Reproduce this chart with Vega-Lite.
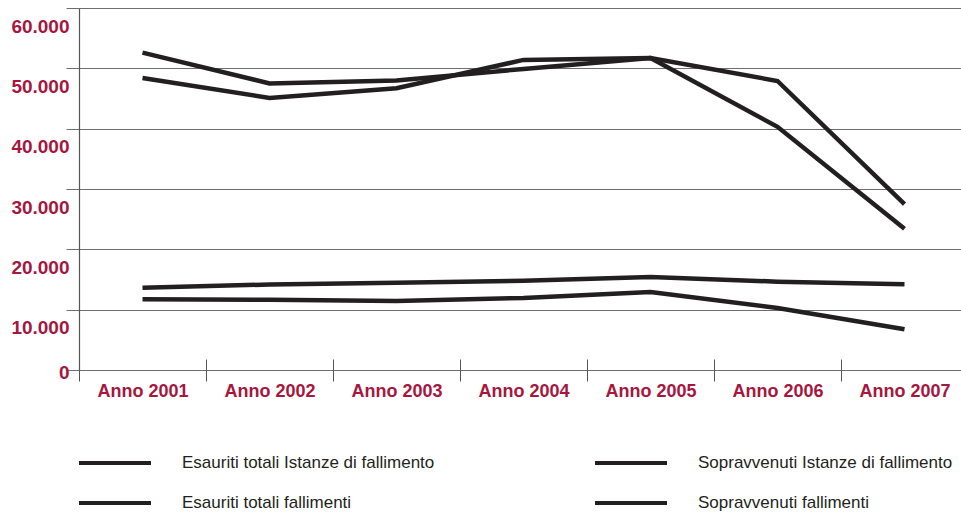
{
  "$schema": "https://vega.github.io/schema/vega-lite/v6.json",
  "autosize": {"type": "none"},
  "padding": {"left": 79, "top": 8, "right": 0, "bottom": 142},
  "width": 889,
  "height": 362,
  "background": "white",
  "config": {
    "view": {"stroke": null},
    "font": "Liberation Sans"
  },
  "data": {
    "values": [
      {"anno": "Anno 2001", "serie": "Esauriti totali Istanze di fallimento", "valore": 52600},
      {"anno": "Anno 2002", "serie": "Esauriti totali Istanze di fallimento", "valore": 47500},
      {"anno": "Anno 2003", "serie": "Esauriti totali Istanze di fallimento", "valore": 48000},
      {"anno": "Anno 2004", "serie": "Esauriti totali Istanze di fallimento", "valore": 49900},
      {"anno": "Anno 2005", "serie": "Esauriti totali Istanze di fallimento", "valore": 51700},
      {"anno": "Anno 2006", "serie": "Esauriti totali Istanze di fallimento", "valore": 47900},
      {"anno": "Anno 2007", "serie": "Esauriti totali Istanze di fallimento", "valore": 27500},
      {"anno": "Anno 2001", "serie": "Sopravvenuti Istanze di fallimento", "valore": 48400},
      {"anno": "Anno 2002", "serie": "Sopravvenuti Istanze di fallimento", "valore": 45100},
      {"anno": "Anno 2003", "serie": "Sopravvenuti Istanze di fallimento", "valore": 46700},
      {"anno": "Anno 2004", "serie": "Sopravvenuti Istanze di fallimento", "valore": 51400},
      {"anno": "Anno 2005", "serie": "Sopravvenuti Istanze di fallimento", "valore": 51700},
      {"anno": "Anno 2006", "serie": "Sopravvenuti Istanze di fallimento", "valore": 40300},
      {"anno": "Anno 2007", "serie": "Sopravvenuti Istanze di fallimento", "valore": 23400},
      {"anno": "Anno 2001", "serie": "Esauriti totali fallimenti", "valore": 13640},
      {"anno": "Anno 2002", "serie": "Esauriti totali fallimenti", "valore": 14170},
      {"anno": "Anno 2003", "serie": "Esauriti totali fallimenti", "valore": 14470},
      {"anno": "Anno 2004", "serie": "Esauriti totali fallimenti", "valore": 14800},
      {"anno": "Anno 2005", "serie": "Esauriti totali fallimenti", "valore": 15400},
      {"anno": "Anno 2006", "serie": "Esauriti totali fallimenti", "valore": 14640},
      {"anno": "Anno 2007", "serie": "Esauriti totali fallimenti", "valore": 14200},
      {"anno": "Anno 2001", "serie": "Sopravvenuti fallimenti", "valore": 11720},
      {"anno": "Anno 2002", "serie": "Sopravvenuti fallimenti", "valore": 11650},
      {"anno": "Anno 2003", "serie": "Sopravvenuti fallimenti", "valore": 11450},
      {"anno": "Anno 2004", "serie": "Sopravvenuti fallimenti", "valore": 11950},
      {"anno": "Anno 2005", "serie": "Sopravvenuti fallimenti", "valore": 12930},
      {"anno": "Anno 2006", "serie": "Sopravvenuti fallimenti", "valore": 10280},
      {"anno": "Anno 2007", "serie": "Sopravvenuti fallimenti", "valore": 6750}
    ]
  },
  "mark": {"type": "line", "strokeWidth": 4.5, "strokeCap": "butt", "strokeJoin": "miter", "clip": false},
  "encoding": {
    "x": {
      "field": "anno",
      "type": "ordinal",
      "scale": {"type": "band", "paddingInner": 0, "paddingOuter": 0},
      "axis": {
        "title": null,
        "domain": false,
        "offset": -11,
        "tickBand": "extent",
        "tickSize": 22,
        "tickColor": "#555555",
        "tickWidth": 1,
        "labelAngle": 0,
        "labelPadding": 1,
        "labelFont": "Liberation Sans",
        "labelFontSize": 18,
        "labelFontWeight": "bold",
        "labelColor": "#A6173F"
      }
    },
    "y": {
      "field": "valore",
      "type": "quantitative",
      "scale": {"domain": [0, 60000], "nice": false},
      "axis": {
        "title": null,
        "values": [0, 10000, 20000, 30000, 40000, 50000, 60000],
        "format": ",d",
        "labelExpr": "replace(datum.label, /,/g, '.')",
        "grid": true,
        "gridColor": "#6e6e6e",
        "gridWidth": 1,
        "tickColor": "#6e6e6e",
        "tickSize": 13,
        "domainColor": "#555555",
        "domainWidth": 1.2,
        "labelPadding": -3,
        "labelOffset": {"condition": {"test": "datum.value == 0", "value": 2}, "value": 18},
        "labelFont": "Liberation Sans",
        "labelFontSize": 19,
        "labelFontWeight": "bold",
        "labelColor": "#A6173F"
      }
    },
    "color": {
      "field": "serie",
      "type": "nominal",
      "scale": {
        "domain": [
          "Esauriti totali Istanze di fallimento",
          "Esauriti totali fallimenti",
          "Sopravvenuti Istanze di fallimento",
          "Sopravvenuti fallimenti"
        ],
        "range": ["#231f20", "#231f20", "#231f20", "#231f20"]
      },
      "legend": {
        "title": null,
        "orient": "none",
        "legendX": 25,
        "legendY": 444,
        "columns": 2,
        "columnPadding": 152,
        "rowPadding": 21,
        "symbolType": "M-4,0H4",
        "symbolSize": 324,
        "symbolStrokeWidth": 4,
        "labelOffset": 56,
        "labelFont": "Liberation Sans",
        "labelFontSize": 17,
        "labelColor": "#231f20",
        "labelLimit": 400
      }
    }
  }
}
